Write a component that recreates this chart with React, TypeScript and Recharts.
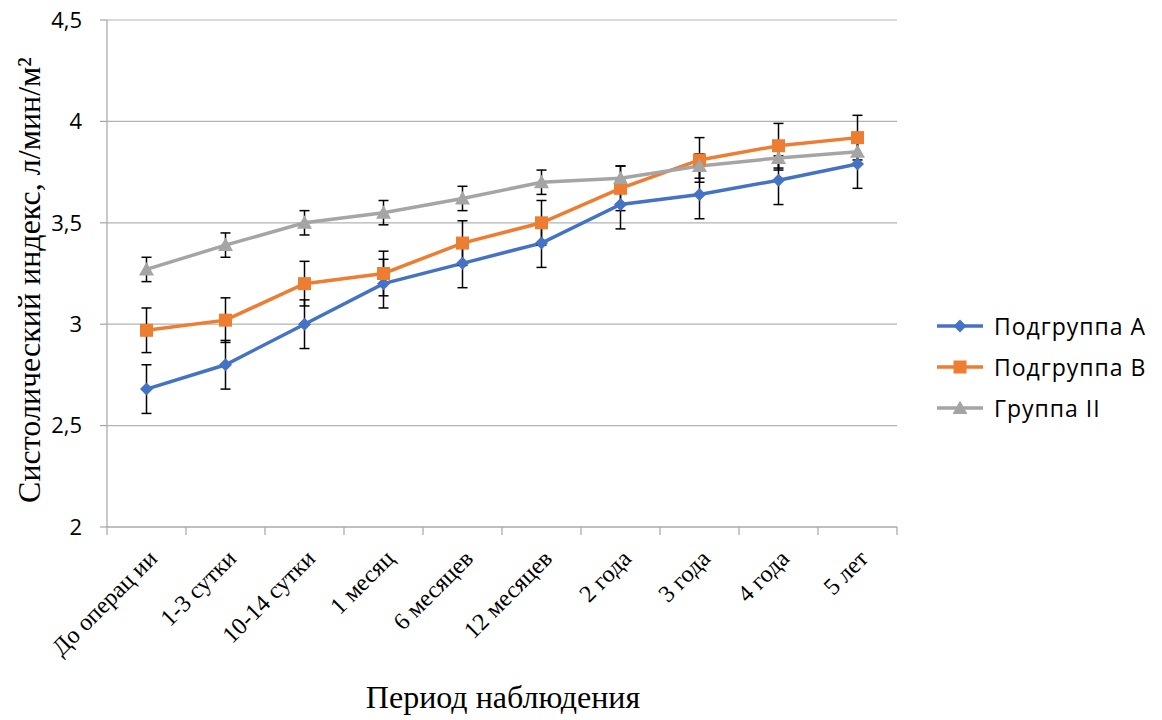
import React from 'react';
import { LineChart, Line, XAxis, YAxis, CartesianGrid, ErrorBar, Legend, Label } from 'recharts';

const categories = ['До операц ии', '1-3 сутки', '10-14 сутки', '1 месяц', '6 месяцев', '12 месяцев', '2 года', '3 года', '4 года', '5 лет'];
const subA = [2.68, 2.8, 3.0, 3.2, 3.3, 3.4, 3.59, 3.64, 3.71, 3.79];
const subB = [2.97, 3.02, 3.2, 3.25, 3.4, 3.5, 3.67, 3.81, 3.88, 3.92];
const groupII = [3.27, 3.39, 3.5, 3.55, 3.62, 3.7, 3.72, 3.78, 3.82, 3.85];
const errA = [0.12, 0.12, 0.12, 0.12, 0.12, 0.12, 0.12, 0.12, 0.12, 0.12];
const errB = [0.11, 0.11, 0.11, 0.11, 0.11, 0.11, 0.11, 0.11, 0.11, 0.11];
const errII = [0.06, 0.06, 0.06, 0.06, 0.06, 0.06, 0.06, 0.06, 0.06, 0.06];
const yTicks = [2, 2.5, 3, 3.5, 4, 4.5];
const boundTicks = [0, 1, 2, 3, 4, 5, 6, 7, 8, 9, 10];

const seriesKeys = ['a', 'b', 'g'];
const seriesNames: Record<string, string> = { a: 'Подгруппа А', b: 'Подгруппа В', g: 'Группа II' };
const colors: Record<string, string> = { a: '#4472C4', b: '#ED7D31', g: '#A5A5A5' };

const data = categories.map((c, i) => ({
  cat: c,
  a: subA[i],
  b: subB[i],
  g: groupII[i],
  ea: errA[i],
  eb: errB[i],
  eg: errII[i],
}));

const SERIF = '"Liberation Serif", "Times New Roman", serif';
const SANS = '"Open Sans", "Noto Sans", sans-serif';
const AXIS_GRAY = '#a6a6a6';

function Marker({ kind, cx, cy, color }: { kind: string; cx: number; cy: number; color: string }) {
  if (kind === 'a') {
    const r = 6.5;
    return <polygon points={`${cx},${cy - r} ${cx + r},${cy} ${cx},${cy + r} ${cx - r},${cy}`} fill={color} />;
  }
  if (kind === 'b') {
    return <rect x={cx - 6.5} y={cy - 6.5} width={13} height={13} fill={color} />;
  }
  return <polygon points={`${cx},${cy - 7.5} ${cx + 7.5},${cy + 6} ${cx - 7.5},${cy + 6}`} fill={color} />;
}

const makeDot = (kind: string) => (props: any) => {
  const { cx, cy, index } = props;
  if (cx == null || cy == null) return <g key={`d-${kind}-${index}`} />;
  return (
    <g key={`d-${kind}-${index}`}>
      <Marker kind={kind} cx={cx} cy={cy} color={colors[kind]} />
    </g>
  );
};

const XTick = (props: any) => {
  const { x, y, payload } = props;
  return (
    <g transform={`translate(${x + 12},${y + 24})`}>
      <text x={0} y={0} textAnchor="end" transform="rotate(-45)" fill="#000" fontFamily={SERIF} fontSize={24}>
        {payload.value}
      </text>
    </g>
  );
};

const EmptyTick = () => <g />;

const LegendContent = () => {
  return (
    <div style={{ fontFamily: SANS, fontSize: 23, letterSpacing: 1, color: '#000' }}>
      {seriesKeys.map((key) => (
        <div key={key} style={{ display: 'flex', alignItems: 'center', height: 41 }}>
          <svg width={50} height={20} style={{ marginRight: 9 }}>
            <line x1={2} y1={10} x2={48} y2={10} stroke={colors[key]} strokeWidth={3.5} />
            <Marker kind={key} cx={25} cy={10} color={colors[key]} />
          </svg>
          <span>{seriesNames[key]}</span>
        </div>
      ))}
    </div>
  );
};

export default function App() {
  return (
    <div style={{ position: 'absolute', left: 0, top: 0, background: '#fff' }}>
      <LineChart width={1162} height={720} data={data} margin={{ top: 20, right: 265, bottom: 0, left: 47 }}>
        <CartesianGrid vertical={false} stroke="#b3b3b3" strokeWidth={1.2} />
        <XAxis
          xAxisId="bounds"
          type="number"
          dataKey={() => 0}
          domain={[0, 10]}
          ticks={boundTicks}
          tick={<EmptyTick />}
          tickLine={{ stroke: AXIS_GRAY, strokeWidth: 1.2 }}
          tickSize={8}
          axisLine={{ stroke: AXIS_GRAY, strokeWidth: 1.2 }}
          height={1}
          allowDataOverflow
        />
        <XAxis
          xAxisId="cat"
          dataKey="cat"
          scale="band"
          tickLine={false}
          axisLine={false}
          tick={<XTick />}
          interval={0}
          height={192}
        >
          <Label
            content={() => (
              <text x={503} y={708} textAnchor="middle" fontFamily={SERIF} fontSize={32} fill="#000">
                Период наблюдения
              </text>
            )}
          />
        </XAxis>
        <YAxis
          domain={[2, 4.5]}
          ticks={yTicks}
          tickFormatter={(v: number) => String(v).replace('.', ',')}
          tick={{ fill: '#000', fontFamily: SANS, fontSize: 22 }}
          tickLine={{ stroke: AXIS_GRAY, strokeWidth: 1.2 }}
          tickSize={7}
          tickMargin={18}
          axisLine={{ stroke: AXIS_GRAY, strokeWidth: 1.2 }}
          width={60}
          allowDataOverflow
        >
          <Label
            content={() => (
              <text
                x={0}
                y={0}
                transform="translate(40,280) rotate(-90)"
                textAnchor="middle"
                fontFamily={SERIF}
                fontSize={32}
                fill="#000"
              >
                Систолический индекс, л/мин/м²
              </text>
            )}
          />
        </YAxis>
        <Legend
          layout="vertical"
          align="center"
          verticalAlign="middle"
          content={<LegendContent />}
          wrapperStyle={{ left: 935, top: 305, width: 227 }}
        />
        <Line xAxisId="cat" dataKey="a" name={seriesNames.a} stroke={colors.a} strokeWidth={3.5} dot={makeDot('a')} isAnimationActive={false}>
          <ErrorBar dataKey="ea" width={5} stroke="#000" strokeWidth={1.5} direction="y" />
        </Line>
        <Line xAxisId="cat" dataKey="b" name={seriesNames.b} stroke={colors.b} strokeWidth={3.5} dot={makeDot('b')} isAnimationActive={false}>
          <ErrorBar dataKey="eb" width={5} stroke="#000" strokeWidth={1.5} direction="y" />
        </Line>
        <Line xAxisId="cat" dataKey="g" name={seriesNames.g} stroke={colors.g} strokeWidth={3.5} dot={makeDot('g')} isAnimationActive={false}>
          <ErrorBar dataKey="eg" width={5} stroke="#000" strokeWidth={1.5} direction="y" />
        </Line>
      </LineChart>
    </div>
  );
}
